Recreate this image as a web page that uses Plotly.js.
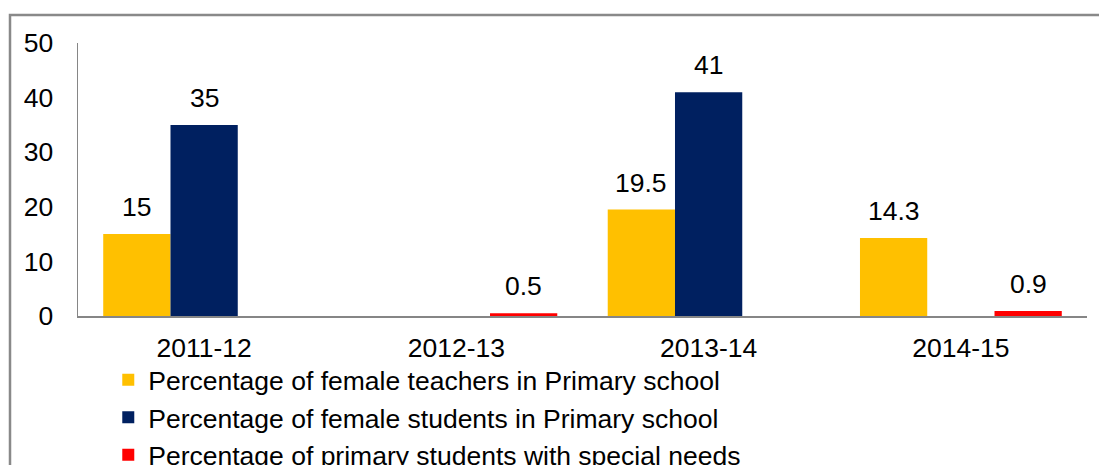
<!DOCTYPE html>
<html>
<head>
<meta charset="utf-8">
<script src="https://cdn.plot.ly/plotly-3.0.1.min.js"></script>
<style>html,body{margin:0;padding:0;background:#fff;}#chart{width:1099px;height:465px;}</style>
</head>
<body>
<div id="chart"></div>
<script>
var categories = ["2011-12", "2012-13", "2013-14", "2014-15"];
var seriesNames = [
  "Percentage of female teachers in Primary school",
  "Percentage of female students in Primary school",
  "Percentage of primary students with special needs"
];
var teachers = [15, null, 19.5, 14.3];
var students = [35, null, 41, null];
var specialNeeds = [null, 0.5, null, 0.9];
var yTicks = [0, 10, 20, 30, 40, 50];

var colors = ["#FFC000", "#002060", "#FF0000"];
var allSeries = [teachers, students, specialNeeds];

var M = {l: 78, r: 12, t: 43, b: 149, autoexpand: false};
var W = 1099, H = 465;
var bargap = 0.2;
var plotW = W - M.l - M.r;
var barW = plotW / categories.length * (1 - bargap) / allSeries.length;

var font = "Liberation Sans, Arial, sans-serif";
var FS = 26.5;

var traces = allSeries.map(function (vals, i) {
  return {
    type: "bar",
    name: seriesNames[i],
    x: categories,
    y: vals,
    marker: {color: colors[i], line: {width: 0}},
    legendgroup: "g" + i,
    hoverinfo: "y"
  };
});

var annotations = [];
allSeries.forEach(function (vals, i) {
  vals.forEach(function (v, j) {
    if (v === null) return;
    annotations.push({
      x: categories[j], y: v, xref: "x", yref: "y",
      text: String(v), showarrow: false,
      xanchor: "center", yanchor: "bottom",
      xshift: (i - (allSeries.length - 1) / 2) * barW,
      yshift: 10,
      font: {family: font, size: FS, color: "#000"}
    });
  });
});

var yPx = (H - M.b) - M.t;
var layout = {
  width: W, height: H,
  margin: M,
  paper_bgcolor: "#fff", plot_bgcolor: "#fff",
  barmode: "group", bargap: bargap, bargroupgap: 0,
  font: {family: font, size: FS, color: "#000"},
  showlegend: true,
  legend: {
    orientation: "v", x: 0.03, xanchor: "left", y: -0.147, yanchor: "top",
    traceorder: "grouped", tracegroupgap: 0,
    font: {family: font, size: FS, color: "#000"},
    bgcolor: "rgba(0,0,0,0)"
  },
  xaxis: {
    type: "category", showgrid: false, zeroline: false,
    showline: true, linecolor: "#868686", linewidth: 1.5,
    ticks: "", ticklabelstandoff: 8,
    tickfont: {family: font, size: FS, color: "#000"}
  },
  yaxis: {
    range: [0, 50], tickvals: yTicks, ticktext: yTicks.map(String),
    showgrid: false, zeroline: false,
    showline: true, linecolor: "#868686", linewidth: 1.5,
    ticks: "", ticklabelstandoff: 18,
    tickfont: {family: font, size: FS, color: "#000"}
  },
  annotations: annotations,
  shapes: [{
    type: "rect", xref: "paper", yref: "paper",
    x0: (10 - M.l) / plotW, x1: 1.2,
    y0: -2, y1: ((H - M.b) - 15) / yPx,
    line: {color: "#898989", width: 2.5}, fillcolor: "rgba(0,0,0,0)"
  }]
};

Plotly.newPlot("chart", traces, layout, {staticPlot: true, displayModeBar: false});
</script>
</body>
</html>
